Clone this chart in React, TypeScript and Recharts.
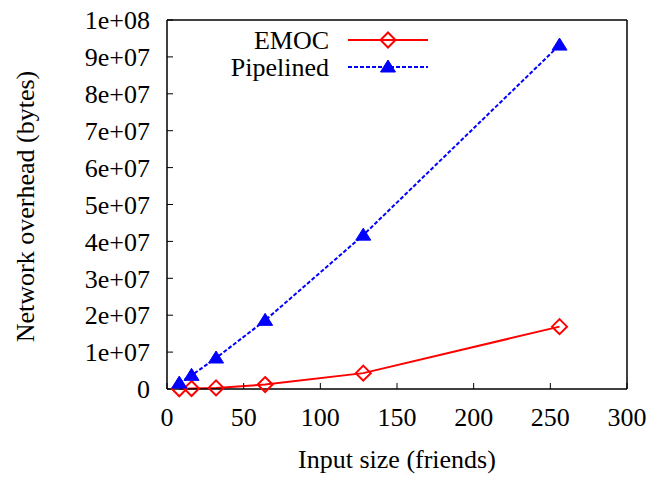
import { Legend, Line, LineChart, XAxis, YAxis } from 'recharts'

const friends = [8, 16, 32, 64, 128, 256]
const emocBytes = [50000, 120000, 300000, 1200000, 4300000, 16900000]
const pipelinedBytes = [1600000, 3700000, 8400000, 18600000, 41700000, 93200000]
const xTicks = [0, 50, 100, 150, 200, 250, 300]
const yTicks = [0, 1e7, 2e7, 3e7, 4e7, 5e7, 6e7, 7e7, 8e7, 9e7, 1e8]

const data = friends.map((f, i) => ({
  friends: f,
  emoc: emocBytes[i],
  pipelined: pipelinedBytes[i],
}))

const FONT = '"Liberation Serif", "Times New Roman", serif'
const RED = '#ff0000'
const BLUE = '#0000ff'

function formatExp(v: number) {
  if (v === 0) return '0'
  const exp = Math.floor(Math.log10(v) + 1e-9)
  const mant = Math.round(v / Math.pow(10, exp))
  return `${mant}e+${String(exp).padStart(2, '0')}`
}

function Diamond({ cx, cy }: { cx: number; cy: number }) {
  const r = 7.5
  return (
    <polygon
      points={`${cx},${cy - r} ${cx + r},${cy} ${cx},${cy + r} ${cx - r},${cy}`}
      fill="none"
      stroke={RED}
      strokeWidth={2}
    />
  )
}

function Triangle({ cx, cy }: { cx: number; cy: number }) {
  return (
    <polygon
      points={`${cx},${cy - 7} ${cx + 7.5},${cy + 5} ${cx - 7.5},${cy + 5}`}
      fill={BLUE}
      stroke={BLUE}
      strokeWidth={1}
    />
  )
}

const series = [
  { name: 'EMOC', color: RED, dash: undefined as string | undefined, marker: Diamond },
  { name: 'Pipelined', color: BLUE, dash: '4 2', marker: Triangle },
]

function ChartLegend() {
  return (
    <svg width={653} height={90} style={{ display: 'block' }}>
      {series.map((s, i) => {
        const y = 40 + i * 27
        const Marker = s.marker
        return (
          <g key={s.name}>
            <text
              x={329}
              y={y}
              textAnchor="end"
              dominantBaseline="central"
              fontFamily={FONT}
              fontSize={26}
              fill="#000"
            >
              {s.name}
            </text>
            <line x1={348} x2={428} y1={y} y2={y} stroke={s.color} strokeWidth={2} strokeDasharray={s.dash} />
            <Marker cx={388} cy={y} />
          </g>
        )
      })}
    </svg>
  )
}

const tickStyle = { fontFamily: FONT, fontSize: 26, fill: '#000' }

export default function App() {
  return (
    <div style={{ position: 'absolute', left: 0, top: 0, background: '#fff' }}>
      <LineChart width={653} height={477} data={data} margin={{ top: 0, right: 0, bottom: 0, left: 0 }}>
        <XAxis
          xAxisId="bottom"
          dataKey="friends"
          type="number"
          domain={[0, 300]}
          ticks={xTicks}
          height={88}
          tick={tickStyle}
          tickSize={-6}
          tickMargin={25}
          axisLine={{ stroke: '#000', strokeWidth: 1.5 }}
          tickLine={{ stroke: '#000' }}
          label={(props: any) => {
            const vb = props.viewBox
            return (
              <text
                x={vb.x + vb.width / 2}
                y={vb.y + 70}
                textAnchor="middle"
                dominantBaseline="central"
                fontFamily={FONT}
                fontSize={26}
                fill="#000"
              >
                Input size (friends)
              </text>
            )
          }}
        />
        <XAxis
          xAxisId="top"
          dataKey="friends"
          type="number"
          orientation="top"
          domain={[0, 300]}
          ticks={xTicks}
          height={20}
          tick={false}
          tickSize={-6}
          axisLine={{ stroke: '#000', strokeWidth: 1.5 }}
          tickLine={{ stroke: '#000' }}
        />
        <YAxis
          yAxisId="left"
          type="number"
          domain={[0, 1e8]}
          ticks={yTicks}
          width={167}
          tick={tickStyle}
          tickFormatter={formatExp}
          tickSize={-6}
          tickMargin={23}
          axisLine={{ stroke: '#000', strokeWidth: 1.5 }}
          tickLine={{ stroke: '#000' }}
          label={(props: any) => {
            const vb = props.viewBox
            const cx = vb.x + 25
            const cy = vb.y + vb.height / 2 + 2
            return (
              <text
                x={cx}
                y={cy}
                transform={`rotate(-90 ${cx} ${cy})`}
                textAnchor="middle"
                dominantBaseline="central"
                fontFamily={FONT}
                fontSize={26}
                fill="#000"
              >
                Network overhead (bytes)
              </text>
            )
          }}
        />
        <YAxis
          yAxisId="right"
          type="number"
          orientation="right"
          domain={[0, 1e8]}
          ticks={yTicks}
          width={26}
          tick={false}
          tickSize={-6}
          axisLine={{ stroke: '#000', strokeWidth: 1.5 }}
          tickLine={{ stroke: '#000' }}
        />
        <Legend
          layout="vertical"
          align="center"
          verticalAlign="middle"
          wrapperStyle={{ position: 'absolute', left: 0, top: 0, width: 653, height: 90 }}
          content={() => <ChartLegend />}
        />
        <Line
          xAxisId="bottom"
          yAxisId="left"
          type="linear"
          dataKey="emoc"
          name="EMOC"
          stroke={RED}
          strokeWidth={2}
          dot={(p: any) => <Diamond key={`e-${p.index}`} cx={p.cx} cy={p.cy} />}
          activeDot={false}
          isAnimationActive={false}
        />
        <Line
          xAxisId="bottom"
          yAxisId="left"
          type="linear"
          dataKey="pipelined"
          name="Pipelined"
          stroke={BLUE}
          strokeWidth={2}
          strokeDasharray="4 2"
          dot={(p: any) => <Triangle key={`p-${p.index}`} cx={p.cx} cy={p.cy} />}
          activeDot={false}
          isAnimationActive={false}
        />
      </LineChart>
    </div>
  )
}
